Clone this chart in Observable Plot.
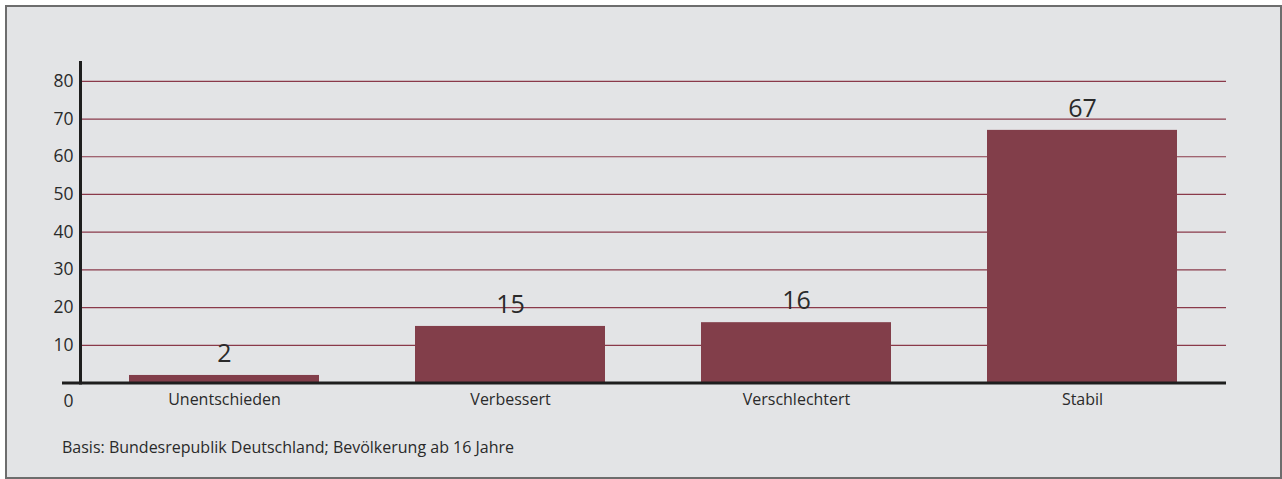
<!DOCTYPE html>
<html>
<head>
<meta charset="utf-8">
<script src="https://cdn.jsdelivr.net/npm/d3@7"></script>
<script src="https://cdn.jsdelivr.net/npm/@observablehq/plot@0.6"></script>
<style>
  html, body { margin: 0; padding: 0; background: #ffffff; }
  #frame {
    position: absolute; left: 5px; top: 5px;
    width: 1277px; height: 474px; box-sizing: border-box;
    border: 2px solid #6d6d6d; background: #e3e4e6;
    font-family: "Open Sans", sans-serif;
  }
  #chart svg { display: block; }
  #caption {
    position: absolute; left: 55px; top: 429px;
    font-size: 16px; color: #2a2a2a;
  }
</style>
</head>
<body>
<div id="frame">
  <div id="chart"></div>
  <div id="caption">Basis: Bundesrepublik Deutschland; Bevölkerung ab 16 Jahre</div>
</div>
<script>
const categories = ["Unentschieden", "Verbessert", "Verschlechtert", "Stabil"];
const values = [2, 15, 16, 67];
const yTicks = [10, 20, 30, 40, 50, 60, 70, 80];

const data = categories.map((c, i) => ({category: c, value: values[i]}));
const barColor = "#823e4a";
const gridColor = "#8a3a4a";

const chart = Plot.plot({
  width: 1270,
  height: 410,
  marginTop: 55,
  marginBottom: 34.5,
  marginLeft: 73,
  marginRight: 51,
  style: {background: "transparent", fontFamily: "Open Sans, sans-serif", color: "#2a2a2a"},
  x: {domain: categories, paddingInner: 0.337, paddingOuter: 0.1685, label: null},
  y: {domain: [0, 85], label: null},
  marks: [
    Plot.ruleY(yTicks, {stroke: gridColor, strokeWidth: 1.2}),
    Plot.barY(data, {x: "category", y: "value", fill: barColor}),
    Plot.text(data, {x: "category", y: "value", text: d => String(d.value), dy: -21.5, fontSize: 25, fill: "#2a2a2a"}),
    Plot.axisY({ticks: yTicks, tickSize: 0, tickPadding: 7, fontSize: 17.5, label: null}),
    Plot.axisX({tickSize: 0, tickPadding: 10.5, fontSize: 16, label: null}),
    Plot.text(["0"], {frameAnchor: "bottom-left", textAnchor: "middle", lineAnchor: "middle", text: d => d, dx: -12, dy: 18.5, fontSize: 17.5, fill: "#2a2a2a"}),
    Plot.frame({anchor: "left", stroke: "#1e1e1e", strokeWidth: 3}),
    Plot.ruleY([0], {stroke: "#1e1e1e", strokeWidth: 3, insetLeft: -18})
  ]
});
document.getElementById("chart").appendChild(chart);
</script>
</body>
</html>
